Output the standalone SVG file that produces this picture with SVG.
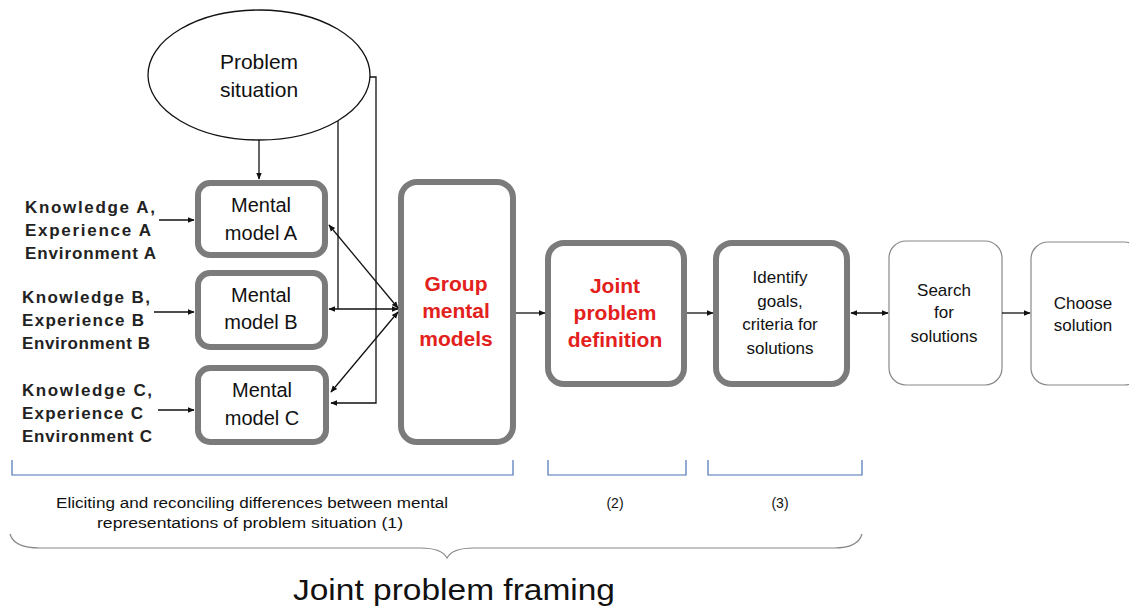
<svg xmlns="http://www.w3.org/2000/svg" width="1129" height="610" viewBox="0 0 1129 610">
<style>
text{font-family:"Liberation Sans",Arial,sans-serif;fill:#111}
.n{font-size:20px;text-anchor:middle}
.k{font-size:17px;font-weight:bold;fill:#222}
.red{font-size:21px;font-weight:bold;text-anchor:middle;fill:#e3211c}
.s{font-size:17px;text-anchor:middle}
.thick{fill:#fff;stroke:#7b7b7b;stroke-width:6}
.thin{fill:#fff;stroke:#888;stroke-width:1.2}
.c{fill:none;stroke:#111;stroke-width:1.3}
.br{fill:none;stroke:#4a72b8;stroke-width:1.2}
.small{font-size:14px;text-anchor:middle}
</style>
<defs>
<marker id="ah" viewBox="0 0 10 10" refX="9" refY="5" markerWidth="7" markerHeight="7" orient="auto-start-reverse" markerUnits="userSpaceOnUse">
<path d="M0,1 L10,5 L0,9 z" fill="#111"/>
</marker>
</defs>

<g id="problem-situation">
<ellipse cx="259" cy="75" rx="111" ry="65" fill="#fff" stroke="#111" stroke-width="1.3"/>
<text class="n" x="259" y="69" style="font-size:21px">Problem</text>
<text class="n" x="259" y="97" style="font-size:21px">situation</text>
</g>

<g id="inputs">
<text class="k" x="25" y="213" textLength="130">Knowledge A,</text>
<text class="k" x="25" y="236" textLength="126">Experience A</text>
<text class="k" x="25" y="259" textLength="131">Environment A</text>
<text class="k" x="22" y="303" textLength="128">Knowledge B,</text>
<text class="k" x="22" y="326" textLength="122">Experience B</text>
<text class="k" x="22" y="349" textLength="128">Environment B</text>
<text class="k" x="22" y="396" textLength="130">Knowledge C,</text>
<text class="k" x="22" y="419" textLength="121">Experience C</text>
<text class="k" x="22" y="442" textLength="130">Environment C</text>
</g>

<g id="mental-model-a">
<rect class="thick" x="198" y="183" width="127" height="72" rx="12"/>
<text class="n" x="261" y="212">Mental</text>
<text class="n" x="261" y="240">model A</text>
</g>
<g id="mental-model-b">
<rect class="thick" x="198" y="273" width="127" height="74" rx="12"/>
<text class="n" x="261" y="302">Mental</text>
<text class="n" x="261" y="329">model B</text>
</g>
<g id="mental-model-c">
<rect class="thick" x="198" y="368" width="128" height="74" rx="12"/>
<text class="n" x="262" y="397">Mental</text>
<text class="n" x="262" y="425">model C</text>
</g>

<g id="group-mental-models">
<rect class="thick" x="401" y="182" width="112" height="260" rx="16"/>
<text class="red" x="456" y="291">Group</text>
<text class="red" x="456" y="318">mental</text>
<text class="red" x="456" y="346">models</text>
</g>

<g id="joint-problem-definition">
<rect class="thick" x="548" y="243" width="136" height="141" rx="16"/>
<text class="red" x="615" y="293">Joint</text>
<text class="red" x="615" y="320">problem</text>
<text class="red" x="615" y="347">definition</text>
</g>

<g id="identify-goals">
<rect class="thick" x="716" y="243" width="131" height="141" rx="16"/>
<text class="s" x="780" y="283">Identify</text>
<text class="s" x="780" y="307">goals,</text>
<text class="s" x="780" y="330">criteria for</text>
<text class="s" x="780" y="354">solutions</text>
</g>

<g id="search-solutions">
<rect class="thin" x="889" y="241" width="113" height="144" rx="17"/>
<text class="s" x="944" y="296">Search</text>
<text class="s" x="944" y="318">for</text>
<text class="s" x="944" y="342">solutions</text>
</g>

<g id="choose-solution">
<rect class="thin" x="1031" y="242" width="110" height="143" rx="17"/>
<text class="s" x="1083" y="309">Choose</text>
<text class="s" x="1083" y="331">solution</text>
</g>

<g id="connectors">
<line class="c" x1="259" y1="140" x2="259" y2="179" marker-end="url(#ah)"/>
<line class="c" x1="159" y1="220" x2="194" y2="220" marker-end="url(#ah)"/>
<line class="c" x1="154" y1="312" x2="194" y2="312" marker-end="url(#ah)"/>
<line class="c" x1="158" y1="410" x2="194" y2="410" marker-end="url(#ah)"/>
<polyline class="c" points="338,121 338,309"/>
<line class="c" x1="329" y1="309" x2="398" y2="309" marker-start="url(#ah)" marker-end="url(#ah)"/>
<polyline class="c" points="370,77 376,77 376,403 331,403" marker-end="url(#ah)"/>
<line class="c" x1="329" y1="225" x2="398" y2="308" marker-start="url(#ah)" marker-end="url(#ah)"/>
<line class="c" x1="331" y1="392" x2="398" y2="312" marker-start="url(#ah)" marker-end="url(#ah)"/>
<line class="c" x1="516" y1="313" x2="545" y2="313" marker-end="url(#ah)"/>
<line class="c" x1="687" y1="313" x2="713" y2="313" marker-end="url(#ah)"/>
<line class="c" x1="851" y1="313" x2="888" y2="313" marker-start="url(#ah)" marker-end="url(#ah)"/>
<line class="c" x1="1002" y1="313" x2="1030" y2="313" marker-end="url(#ah)"/>
</g>

<g id="brackets">
<polyline class="br" points="12,460 12,475 513,475 513,460"/>
<polyline class="br" points="548,460 548,475 686,475 686,460"/>
<polyline class="br" points="708,460 708,475 862,475 862,460"/>
<text class="small" x="252" y="508" textLength="392" lengthAdjust="spacingAndGlyphs">Eliciting  and reconciling  differences between mental</text>
<text class="small" x="250" y="528" textLength="306" lengthAdjust="spacingAndGlyphs">representations of problem situation  (1)</text>
<text class="small" x="615" y="508">(2)</text>
<text class="small" x="780" y="508">(3)</text>
<path d="M10,534 Q14,548 40,548 L420,548 Q442,548 447,558 Q452,548 474,548 L834,548 Q858,548 862,534" fill="none" stroke="#888" stroke-width="1.2"/>
<text x="454" y="600" text-anchor="middle" style="font-size:30px" textLength="322" lengthAdjust="spacingAndGlyphs">Joint problem framing</text>
</g>
</svg>
